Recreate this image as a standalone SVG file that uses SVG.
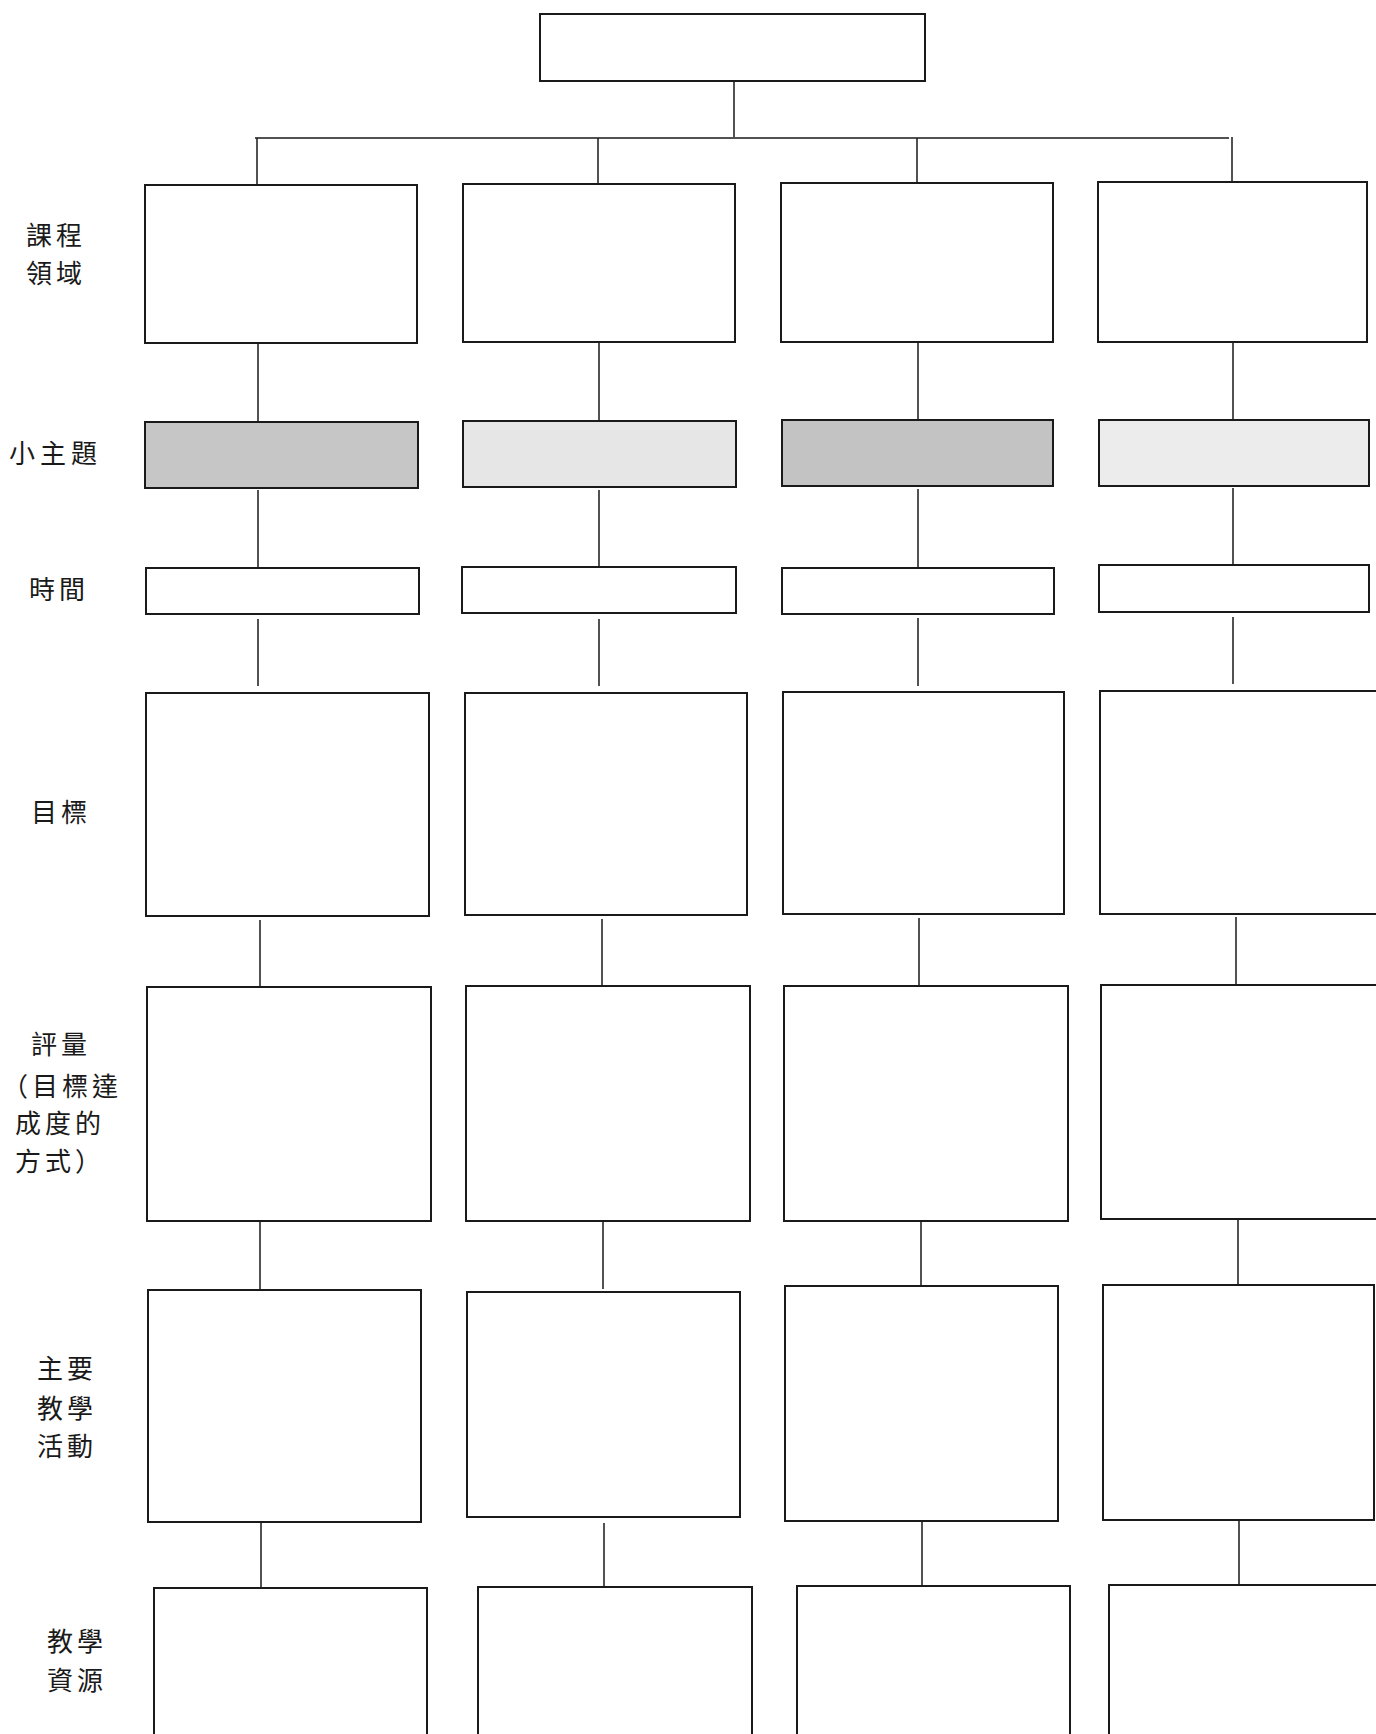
<svg xmlns="http://www.w3.org/2000/svg" width="1376" height="1734" viewBox="0 0 1376 1734">
<style>
.box{fill:#ffffff;stroke:#1a1a1a;stroke-width:2}
.g1{fill:#c6c6c6}
.g2{fill:#e6e6e6}
.g3{fill:#c3c3c3}
.g4{fill:#ececec}
.ln{stroke:#1a1a1a;stroke-width:1.5;fill:none}
.lb{font-family:"Noto Sans CJK TC","Noto Sans CJK SC",sans-serif;font-size:26px;fill:#1a1a1a;letter-spacing:4px}
</style>
<rect width="1376" height="1734" fill="#ffffff"/>
<g id="connectors">
<path class="ln" d="M734 81V137M255 138H1229M257 138V184M598 138V184M917 138V183M1232 137V182"/>
<path class="ln" d="M258 343V422M599 342V421M918 342V420M1233 342V420"/>
<path class="ln" d="M258 490V568M599 490V567M918 489V568M1233 488V565"/>
<path class="ln" d="M258 619V686M599 619V686M918 618V686M1233 617V684"/>
<path class="ln" d="M260 920V987M602 919V986M919 918V986M1236 917V985"/>
<path class="ln" d="M260 1221V1290M603 1221V1289M921 1221V1286M1238 1219V1285"/>
<path class="ln" d="M261 1523V1588M604 1523V1587M922 1521V1586M1239 1521V1585"/>
</g>
<g id="top"><rect class="box" x="540" y="14" width="385" height="67"/></g>
<g id="row1">
<rect class="box" x="145" y="185" width="272" height="158"/>
<rect class="box" x="463" y="184" width="272" height="158"/>
<rect class="box" x="781" y="183" width="272" height="159"/>
<rect class="box" x="1098" y="182" width="269" height="160"/>
</g>
<g id="row2">
<rect class="box g1" x="145" y="422" width="273" height="66"/>
<rect class="box g2" x="463" y="421" width="273" height="66"/>
<rect class="box g3" x="782" y="420" width="271" height="66"/>
<rect class="box g4" x="1099" y="420" width="270" height="66"/>
</g>
<g id="row3">
<rect class="box" x="146" y="568" width="273" height="46"/>
<rect class="box" x="462" y="567" width="274" height="46"/>
<rect class="box" x="782" y="568" width="272" height="46"/>
<rect class="box" x="1099" y="565" width="270" height="47"/>
</g>
<g id="row4">
<rect class="box" x="146" y="693" width="283" height="223"/>
<rect class="box" x="465" y="693" width="282" height="222"/>
<rect class="box" x="783" y="692" width="281" height="222"/>
<rect class="box" x="1100" y="691" width="290" height="223"/>
</g>
<g id="row5">
<rect class="box" x="147" y="987" width="284" height="234"/>
<rect class="box" x="466" y="986" width="284" height="235"/>
<rect class="box" x="784" y="986" width="284" height="235"/>
<rect class="box" x="1101" y="985" width="290" height="234"/>
</g>
<g id="row6">
<rect class="box" x="148" y="1290" width="273" height="232"/>
<rect class="box" x="467" y="1292" width="273" height="225"/>
<rect class="box" x="785" y="1286" width="273" height="235"/>
<rect class="box" x="1103" y="1285" width="271" height="235"/>
</g>
<g id="row7">
<rect class="box" x="154" y="1588" width="273" height="160"/>
<rect class="box" x="478" y="1587" width="274" height="160"/>
<rect class="box" x="797" y="1586" width="273" height="160"/>
<rect class="box" x="1109" y="1585" width="290" height="160"/>
</g>
<g id="labels">
<text class="lb" x="26" y="245">課程</text>
<text class="lb" x="26" y="283">領域</text>
<text class="lb" x="9" y="463" style="letter-spacing:5px">小主題</text>
<text class="lb" x="29" y="599">時間</text>
<text class="lb" x="31" y="822">目標</text>
<text class="lb" x="31" y="1054">評量</text>
<text class="lb" x="2" y="1096">（目標達</text>
<text class="lb" x="15" y="1133">成度的</text>
<text class="lb" x="15" y="1171">方式）</text>
<text class="lb" x="37" y="1378">主要</text>
<text class="lb" x="37" y="1418">教學</text>
<text class="lb" x="37" y="1456">活動</text>
<text class="lb" x="47" y="1651">教學</text>
<text class="lb" x="47" y="1690">資源</text>
</g>
</svg>
